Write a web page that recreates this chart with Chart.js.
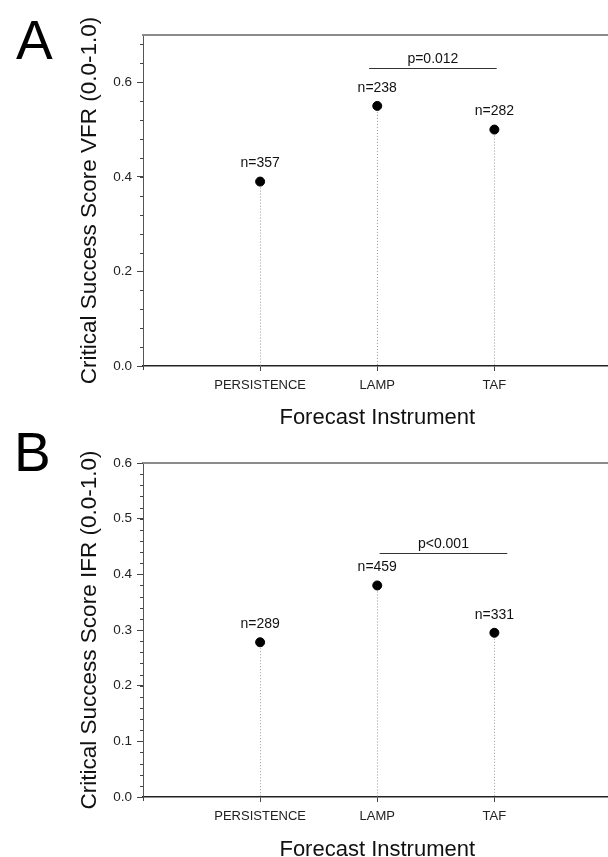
<!DOCTYPE html>
<html>
<head>
<meta charset="utf-8">
<script src="https://cdn.jsdelivr.net/npm/chart.js@4.4.0/dist/chart.umd.min.js"></script>
<style>
  html, body { margin: 0; padding: 0; background: #fff; overflow: hidden; }
  #wrap { position: relative; width: 608px; height: 857px; overflow: hidden; }
  canvas { position: absolute; left: 0; }
  #chartA { top: 0; }
  #chartB { top: 420px; }
</style>
</head>
<body>
<div id="wrap">
  <canvas id="chartA" width="617" height="440"></canvas>
  <canvas id="chartB" width="617" height="460"></canvas>
</div>
<script>
// Données
const instruments = ["PERSISTENCE", "LAMP", "TAF"];
const xPositions = [1, 2, 3];

// Panneau A : VFR
const vfrScores = [0.39, 0.55, 0.50];
const vfrCounts = [357, 238, 282];
const vfrTicks = [0.0, 0.2, 0.4, 0.6];
const vfrBracket = { from: 1.93, to: 3.02, y: 0.63, text: "p=0.012" };

// Panneau B : IFR
const ifrScores = [0.278, 0.38, 0.295];
const ifrCounts = [289, 459, 331];
const ifrTicks = [0.0, 0.1, 0.2, 0.3, 0.4, 0.5, 0.6];
const ifrBracket = { from: 2.02, to: 3.11, y: 0.438, text: "p<0.001" };

const FONT = "'Liberation Sans', Arial, sans-serif";

// Plugin : tiges pointillées, étiquettes n=, crochet p, graduations mineures, lettre du panneau
const decorPlugin = {
    id: "decor",
    beforeDatasetsDraw(chart) {
        const ctx = chart.ctx;
        const area = chart.chartArea;
        const pts = chart.getDatasetMeta(0).data;
        ctx.save();
        ctx.strokeStyle = "#9a9a9a";
        ctx.lineWidth = 1;
        ctx.setLineDash([1, 2]);
        pts.forEach((p) => {
            const x = Math.round(p.x) + 0.5;
            ctx.beginPath();
            ctx.moveTo(x, p.y);
            ctx.lineTo(x, area.bottom);
            ctx.stroke();
        });
        ctx.restore();
    },
    afterDraw(chart, args, opts) {
        const ctx = chart.ctx;
        const area = chart.chartArea;
        const xs = chart.scales.x;
        const ys = chart.scales.y;
        const pts = chart.getDatasetMeta(0).data;
        ctx.save();

        // bord supérieur gris
        ctx.strokeStyle = "#8c8c8c";
        ctx.lineWidth = 2;
        ctx.beginPath();
        ctx.moveTo(area.left - 1, area.top);
        ctx.lineTo(area.right, area.top);
        ctx.stroke();

        // graduations mineures + prolongement de l'axe y
        ctx.strokeStyle = "#444";
        ctx.lineWidth = 1;
        for (let v = ys.min; v <= ys.max + 1e-9; v += opts.minorStep) {
            const y = Math.round(ys.getPixelForValue(v)) + 0.5;
            ctx.beginPath();
            ctx.moveTo(area.left - 3, y);
            ctx.lineTo(area.left, y);
            ctx.stroke();
        }
        ctx.beginPath();
        ctx.moveTo(area.left + 0.5, area.bottom);
        ctx.lineTo(area.left + 0.5, area.bottom + 4);
        ctx.stroke();

        // étiquettes n=
        ctx.fillStyle = "#111";
        ctx.font = "14px " + FONT;
        ctx.textAlign = "center";
        ctx.textBaseline = "middle";
        pts.forEach((p, i) => {
            ctx.fillText("n=" + opts.counts[i], p.x, p.y - 18);
        });

        // crochet de significativité
        const b = opts.bracket;
        const x1 = xs.getPixelForValue(b.from);
        const x2 = xs.getPixelForValue(b.to);
        const yb = Math.round(ys.getPixelForValue(b.y)) + 0.5;
        ctx.strokeStyle = "#333";
        ctx.lineWidth = 1.2;
        ctx.beginPath();
        ctx.moveTo(x1, yb);
        ctx.lineTo(x2, yb);
        ctx.stroke();
        ctx.fillText(b.text, (x1 + x2) / 2, yb - 9);

        // lettre du panneau
        ctx.font = "55px " + FONT;
        ctx.textAlign = "left";
        ctx.textBaseline = "alphabetic";
        ctx.fillStyle = "#000";
        ctx.fillText(opts.letter, opts.letterX, opts.letterY);

        ctx.restore();
    },
};

function makeChart(canvasId, cfg) {
    const ctx = document.getElementById(canvasId).getContext("2d");
    return new Chart(ctx, {
        type: "scatter",
        data: {
            datasets: [
                {
                    data: xPositions.map((x, i) => ({ x: x, y: cfg.scores[i] })),
                    backgroundColor: "#000",
                    borderColor: "#000",
                    pointRadius: 4.5,
                    pointHoverRadius: 4.5,
                },
            ],
        },
        options: {
            responsive: false,
            animation: false,
            events: [],
            layout: { padding: { top: cfg.top, left: 0, right: 0, bottom: 0 } },
            plugins: {
                legend: { display: false },
                tooltip: { enabled: false },
                decor: {
                    counts: cfg.counts,
                    bracket: cfg.bracket,
                    minorStep: cfg.minorStep,
                    letter: cfg.letter,
                    letterX: cfg.letterX,
                    letterY: cfg.letterY,
                },
            },
            scales: {
                x: {
                    type: "linear",
                    min: 0,
                    max: 4,
                    afterBuildTicks: (axis) => {
                        axis.ticks = xPositions.map((v) => ({ value: v }));
                    },
                    afterFit: (axis) => {
                        axis.height = cfg.xAxisHeight;
                    },
                    ticks: {
                        font: { family: FONT, size: 13 },
                        color: "#222",
                        padding: 7,
                        callback: (value, index) => instruments[index],
                    },
                    grid: {
                        drawOnChartArea: false,
                        drawTicks: true,
                        tickLength: 5,
                        tickColor: "#444",
                    },
                    border: { color: "#222", width: 1.5 },
                    title: {
                        display: true,
                        text: "Forecast Instrument",
                        font: { family: FONT, size: 22 },
                        color: "#111",
                        padding: { top: 0, bottom: cfg.xTitlePad },
                    },
                },
                y: {
                    min: 0,
                    max: cfg.yMax,
                    afterBuildTicks: (axis) => {
                        axis.ticks = cfg.ticks.map((v) => ({ value: v }));
                    },
                    afterFit: (axis) => {
                        axis.width = 143;
                    },
                    ticks: {
                        font: { family: FONT, size: 13.5 },
                        color: "#222",
                        padding: 5,
                        callback: (value) => value.toFixed(1),
                    },
                    grid: {
                        drawOnChartArea: false,
                        drawTicks: true,
                        tickLength: 6,
                        tickColor: "#444",
                    },
                    border: { color: "#555", width: 1 },
                    title: {
                        display: true,
                        text: cfg.yTitle,
                        font: { family: FONT, size: 22.5 },
                        color: "#111",
                        padding: { top: 76, bottom: 0 },
                    },
                },
            },
        },
        plugins: [decorPlugin],
    });
}

makeChart("chartA", {
    scores: vfrScores,
    counts: vfrCounts,
    ticks: vfrTicks,
    bracket: vfrBracket,
    yMax: 0.7,
    minorStep: 0.04,
    top: 35,
    xAxisHeight: 74,
    xTitlePad: 8.5,
    yTitle: "Critical Success Score VFR (0.0-1.0)",
    letter: "A",
    letterX: 16,
    letterY: 59,
});

makeChart("chartB", {
    scores: ifrScores,
    counts: ifrCounts,
    ticks: ifrTicks,
    bracket: ifrBracket,
    yMax: 0.6,
    minorStep: 0.02,
    top: 43,
    xAxisHeight: 83,
    xTitlePad: 17,
    yTitle: "Critical Success Score IFR (0.0-1.0)",
    letter: "B",
    letterX: 14,
    letterY: 51,
});
</script>
</body>
</html>
